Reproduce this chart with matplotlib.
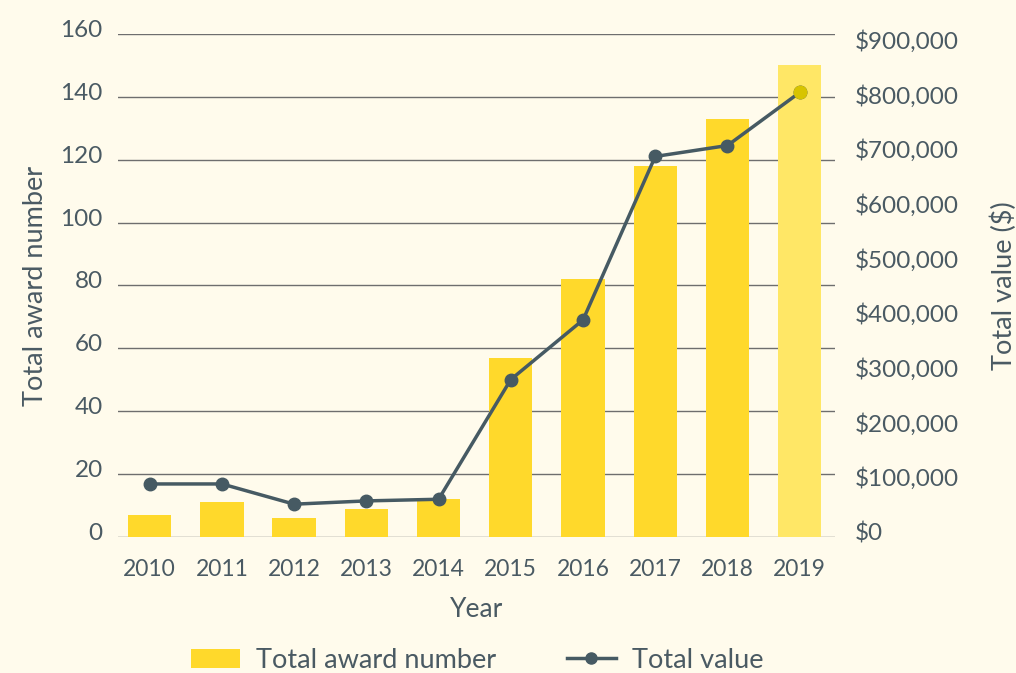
import matplotlib
matplotlib.use("Agg")
import matplotlib.pyplot as plt
from matplotlib.lines import Line2D
from matplotlib.patches import Patch
from matplotlib.transforms import ScaledTranslation

years = ["2010", "2011", "2012", "2013", "2014", "2015", "2016", "2017", "2018", "2019"]
award_number = [7, 11, 6, 9, 12, 57, 82, 118, 133, 150]
total_value = [97000, 97000, 60000, 66000, 69000, 288000, 397000, 696000, 716000, 813000]
left_ticks = [0, 20, 40, 60, 80, 100, 120, 140, 160]
right_ticks = [0, 100000, 200000, 300000, 400000, 500000, 600000, 700000, 800000, 900000]

bg = "#fffbec"
txt = "#4a5a63"
bar_col = "#ffd92b"
bar_last = "#ffe766"
line_col = "#465a63"

plt.rcParams["font.family"] = ["Lato", "DejaVu Sans"]

fig = plt.figure(figsize=(10.16, 6.73), dpi=100, facecolor=bg)
ax = fig.add_axes([0.1161, 0.2021, 0.7058, 0.7474])
ax.set_facecolor(bg)

x = list(range(len(years)))
colors = [bar_col] * (len(years) - 1) + [bar_last]
ax.bar(x, award_number, width=0.6, color=colors, zorder=2)
ax.set_xlim(-0.44, 9.49)
ax.set_ylim(0, 160)
ax.set_yticks(left_ticks)
ax.set_yticklabels([str(t) for t in left_ticks])
ax.set_xticks(x)
ax.set_xticklabels(years)
ax.grid(axis="y", color="#6e6e6e", linewidth=1.0, zorder=0)
ax.set_axisbelow(True)
for s in ax.spines.values():
    s.set_visible(False)
ax.tick_params(axis="x", length=0, labelsize=16.5, colors=txt, pad=16)
ax.tick_params(axis="y", length=0, labelsize=17.5, colors=txt, pad=11)
ax.set_ylabel("Total award number", fontsize=19.5, color=txt, labelpad=9)
ax.set_xlabel("Year", fontsize=19, color=txt, labelpad=12)

ax2 = ax.twinx()
ax2.set_ylim(0, 920000)
ax2.set_yticks(right_ticks)
ax2.set_yticklabels(["${:,}".format(t) for t in right_ticks])
for s in ax2.spines.values():
    s.set_visible(False)
ax2.tick_params(axis="y", length=0, labelsize=17.5, colors=txt, pad=14)
ax2.set_ylabel("Total value ($)", fontsize=19.5, color=txt, labelpad=23)
ax2.plot(x, total_value, color=line_col, linewidth=2.5, marker="o", markersize=9, zorder=3)
ax2.plot(x[-1], total_value[-1], marker="o", markersize=9, color="#d8c400", linestyle="none", zorder=4)

# nudge y tick labels up a little, as in the reference
up = ScaledTranslation(0, 4 / 72, fig.dpi_scale_trans)
for lab in ax.get_yticklabels() + ax2.get_yticklabels():
    lab.set_transform(lab.get_transform() + up)

handles = [
    Patch(facecolor=bar_col, edgecolor="none"),
    Line2D([0], [0], color=line_col, linewidth=2.5, marker="o", markersize=8),
]
fig.legend(handles, ["Total award number", "Total value"], loc="lower center",
           bbox_to_anchor=(0.47, -0.036), ncol=2, frameon=False, fontsize=19.5,
           labelcolor=txt, columnspacing=2.6, handlelength=1.8, handletextpad=0.6)

fig.savefig("out.png", dpi=100, facecolor=bg)
